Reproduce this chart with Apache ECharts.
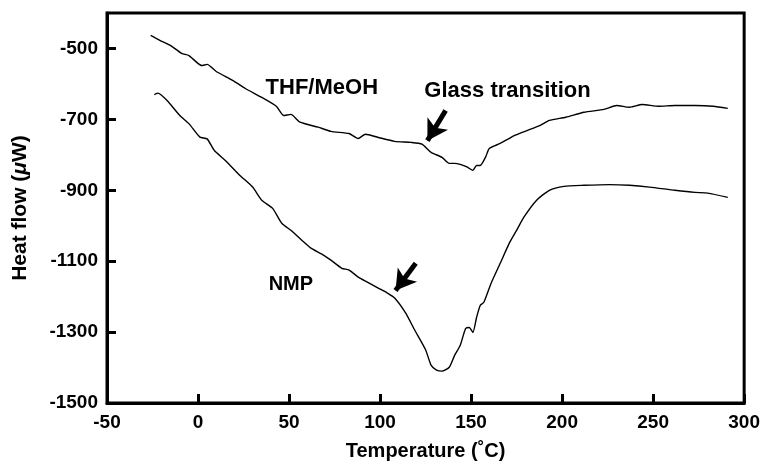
<!DOCTYPE html>
<html>
<head>
<meta charset="utf-8">
<script src="https://cdn.jsdelivr.net/npm/echarts@6/dist/echarts.min.js"></script>
<style>
  html, body { margin: 0; padding: 0; background: #fff; }
  #chart { width: 763px; height: 467px; }
</style>
</head>
<body>
<div id="chart"></div>
<script>
// THF/MeOH 曲线
const thfTemp = [-26, -21, -15, -9, -5, 2, 5, 10, 19, 26, 35, 43, 47, 51, 56, 66, 73, 83, 88, 92, 99, 108, 117, 123, 128, 134, 138, 141, 144, 148, 151, 153, 155, 158, 160, 166, 174, 181, 188, 193, 202, 212, 223, 230, 237, 244, 253, 262, 273, 283, 291]
const thfFlow = [-463, -477, -492, -514, -520, -548, -545, -565, -590, -613, -638, -663, -689, -686, -708, -722, -734, -740, -754, -742, -751, -762, -765, -770, -793, -807, -824, -824, -827, -835, -844, -830, -830, -806, -782, -768, -745, -731, -717, -703, -694, -680, -672, -661, -666, -658, -663, -661, -661, -663, -669]

// NMP 曲线
const nmpTemp = [-24, -22, -17, -10, -5, 1, 5, 9, 15, 23, 30, 35, 41, 46, 51, 57, 62, 68, 73, 79, 83, 88, 93, 99, 104, 108, 114, 119, 125, 128, 131, 134, 138, 141, 144, 147, 149, 151, 153, 155, 157, 161, 166, 171, 175, 179, 186, 193, 201, 212, 226, 237, 248, 262, 273, 280, 291]
const nmpFlow = [-630, -626, -647, -689, -712, -750, -755, -788, -816, -858, -891, -928, -951, -993, -1013, -1041, -1063, -1080, -1097, -1120, -1125, -1145, -1159, -1176, -1190, -1204, -1246, -1294, -1350, -1393, -1407, -1410, -1399, -1365, -1338, -1290, -1287, -1301, -1259, -1225, -1216, -1162, -1106, -1049, -1013, -976, -928, -900, -889, -886, -884, -886, -891, -900, -906, -908, -920]

const xTicks = [-50, 0, 50, 100, 150, 200, 250, 300]
const yTicks = [-1500, -1300, -1100, -900, -700, -500]

const font = 'Liberation Sans, Arial, Helvetica, sans-serif'

const pairs = (xs, ys) => xs.map((x, i) => [x, ys[i]])

// 文字标注
const textLabel = (name, coord, size) => ({
  name: name,
  coord: coord,
  symbol: 'circle',
  symbolSize: 0,
  label: {
    show: true,
    position: 'inside',
    formatter: name,
    color: '#000',
    fontFamily: font,
    fontWeight: 'bold',
    fontSize: size,
  },
})

// 箭头
const arrowStyle = {
  symbol: ['none', 'arrow'],
  symbolSize: [18, 20],
  silent: true,
  label: { show: false },
  lineStyle: { color: '#000', width: 5, type: 'solid' },
}

const myChart = echarts.init(document.getElementById('chart'), null, { renderer: 'canvas' })
myChart.setOption({
  animation: false,
  backgroundColor: '#fff',
  grid: {
    left: 107,
    right: 14,
    top: 13,
    bottom: 64,
    show: true,
    borderColor: '#000',
    borderWidth: 3,
  },
  xAxis: {
    type: 'value',
    min: xTicks[0],
    max: xTicks[xTicks.length - 1],
    interval: 50,
    name: 'Temperature (˚C)',
    nameLocation: 'middle',
    nameGap: 38,
    nameTextStyle: { color: '#000', fontFamily: font, fontWeight: 'bold', fontSize: 20 },
    splitLine: { show: false },
    axisLine: { show: true, onZero: false, lineStyle: { color: '#000', width: 3 } },
    axisTick: { show: true, inside: true, length: 9, lineStyle: { color: '#000', width: 3 } },
    axisLabel: {
      color: '#000', fontFamily: font, fontWeight: 'bold', fontSize: 19, margin: 10,
      formatter: (v) => String(v),
    },
  },
  yAxis: {
    type: 'value',
    min: yTicks[0],
    max: -400,
    interval: 200,
    name: 'Heat flow ({i|μ}W)',
    nameLocation: 'middle',
    nameRotate: 90,
    nameGap: 76,
    nameTextStyle: {
      color: '#000', fontFamily: font, fontWeight: 'bold', fontSize: 21,
      rich: { i: { fontStyle: 'italic', fontWeight: 'bold', fontFamily: font, fontSize: 21, color: '#000' } },
    },
    splitLine: { show: false },
    axisLine: { show: true, onZero: false, lineStyle: { color: '#000', width: 3 } },
    axisTick: { show: true, inside: true, length: 9, lineStyle: { color: '#000', width: 3 } },
    axisLabel: {
      color: '#000', fontFamily: font, fontWeight: 'bold', fontSize: 19, margin: 9,
      showMaxLabel: false,
      formatter: (v) => String(v),
    },
  },
  series: [
    {
      name: 'THF/MeOH',
      type: 'line',
      data: pairs(thfTemp, thfFlow),
      showSymbol: false,
      smooth: 0.2,
      lineStyle: { color: '#000', width: 1.4 },
      markPoint: {
        silent: true,
        data: [
          textLabel('THF/MeOH', [68, -611], 22),
          textLabel('Glass transition', [170, -621], 22),
        ],
      },
      markLine: Object.assign({}, arrowStyle, {
        data: [[{ coord: [136, -675] }, { coord: [126, -760] }]],
      }),
    },
    {
      name: 'NMP',
      type: 'line',
      data: pairs(nmpTemp, nmpFlow),
      showSymbol: false,
      smooth: 0.2,
      lineStyle: { color: '#000', width: 1.4 },
      markPoint: {
        silent: true,
        data: [textLabel('NMP', [51, -1166], 20)],
      },
      markLine: Object.assign({}, arrowStyle, {
        data: [[{ coord: [119.6, -1106] }, { coord: [108.5, -1183] }]],
      }),
    },
  ],
})
</script>
</body>
</html>
